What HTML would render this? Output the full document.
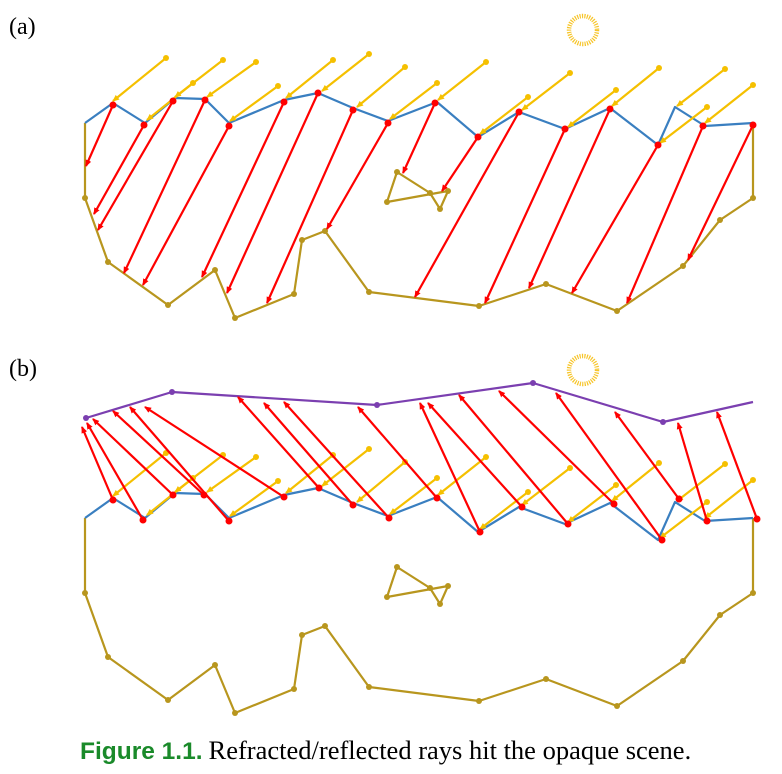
<!DOCTYPE html>
<html><head><meta charset="utf-8">
<style>
html,body{margin:0;padding:0;background:#fff;}
body{width:782px;height:774px;overflow:hidden;position:relative;}
svg{position:absolute;left:0;top:0;}
.lab{position:absolute;font-family:"Liberation Serif",serif;font-size:24px;color:#000;}
#caption{position:absolute;left:80px;top:735px;white-space:nowrap;font-size:24px;}
#caption .fig{font-family:"Liberation Sans",sans-serif;font-weight:bold;color:#1a8a2a;font-size:24.5px;}
#caption .txt{font-family:"Liberation Serif",serif;color:#000;font-size:26.5px;}
</style></head>
<body>
<div class="lab" style="left:9px;top:14px;">(a)</div>
<div class="lab" style="left:9px;top:356px;">(b)</div>
<svg id="fig" width="782" height="774">
<defs>
<marker id="ah" markerWidth="8" markerHeight="8" refX="6" refY="4" orient="auto" markerUnits="userSpaceOnUse">
<path d="M0,1 L7,4 L0,7 Z" fill="#ff0000"/></marker>
<marker id="ay" markerWidth="8" markerHeight="8" refX="6" refY="4" orient="auto" markerUnits="userSpaceOnUse">
<path d="M0,1 L7,4 L0,7 Z" fill="#f5c000"/></marker>
</defs>
<g id="pa"></g>
<g id="pb" transform="translate(0,395)"></g>
<g id="pbtop"></g>
</svg>
<div id="caption"><span class="fig">Figure 1.1.</span> <span class="txt">Refracted/reflected rays hit the opaque scene.</span></div>
<script>
const surface=[[85,123],[113,103],[145,123],[175,98],[205,99],[229,123],[284,100],[318,93],[353,108],[388,121],[437,102],[478,137],[519,112],[565,129],[610,108],[658,145],[675,107],[705,126],[753,123]];
const scene=[[85,123],[85,198],[108,262],[168,305],[215,270],[235,318],[294,294],[302,240],[325,231],[369,292],[479,306],[546,284],[617,311],[683,266],[720,220],[753,198],[753,123]];
const inner=[[397,172],[430,193],[440,209],[448,191],[387,202],[397,172]];
const yStart=[[166,58],[223,60],[193,83],[256,62],[278,86],[333,60],[369,54],[405,67],[437,83],[486,62],[528,97],[570,73],[616,90],[659,68],[725,69],[707,107],[753,85]];
const yEnd=[[113,101],[175,97],[147,120],[207,97],[230,121],[286,98],[322,91],[357,107],[390,119],[438,100],[480,134],[522,110],[568,127],[612,106],[677,106],[660,143],[705,123]];
const rA0=[[113,105],[144,125],[173,101],[205,100],[229,126],[284,102],[318,93],[353,110],[388,123],[435,103],[478,137],[519,112],[565,129],[610,109],[658,145],[703,126],[753,125]];
const rA1=[[86,166],[94,214],[98,230],[124,273],[143,285],[202,277],[227,293],[267,303],[327,229],[403,173],[442,191],[415,297],[485,303],[529,288],[572,293],[627,303],[688,260]];
const purple=[[86,418],[172,392],[377,405],[533,383],[663,422],[753,402]];
const rB0=[[113,500],[143,520],[173,495],[204,495],[229,521],[284,497],[319,488],[353,505],[389,518],[437,498],[480,532],[522,507],[568,524],[614,504],[662,540],[679,499],[707,521],[757,519]];
const rB1=[[82,427],[87,423],[93,419],[113,411],[130,407],[145,407],[238,397],[264,403],[284,402],[358,407],[420,403],[428,403],[459,395],[499,391],[556,393],[615,412],[678,423],[717,412]];
const SUN_A=[583,30], SUN_B=[583,370];

const NS="http://www.w3.org/2000/svg";
function mk(tag,attrs,parent){const e=document.createElementNS(NS,tag);for(const k in attrs)e.setAttribute(k,attrs[k]);parent.appendChild(e);return e;}
function poly(pts,color,w,parent,name){
  const e=mk('polyline',{points:pts.map(p=>p.join(',')).join(' '),fill:'none',stroke:color,'stroke-width':w,'stroke-linejoin':'round'},parent);
  
  
  return e;}
function dot(p,r,color,parent,name){
  const e=mk('circle',{cx:p[0],cy:p[1],r:r,fill:color},parent);
  
  }
function seg(a,b,color,w,marker,parent,name){
  const e=mk('line',{x1:a[0],y1:a[1],x2:b[0],y2:b[1],stroke:color,'stroke-width':w,'marker-end':marker},parent);
  
  }
function sun(c,parent,name){
  const e=mk('circle',{cx:c[0],cy:c[1],r:14,fill:'none',stroke:'#f7c52a','stroke-width':4.5,'stroke-dasharray':'1.2 1.2'},parent);
  
  }
const OL='#b8961e',BL='#3a7fc0',YE='#f5c000',RD='#ff0000',PU='#7b3fb0';

function drawBase(g){
  poly(scene,OL,2.2,g,'opaque-scene');
  poly(inner,OL,2.2,g,'inner-object');
  scene.slice(1,-1).forEach(p=>dot(p,3,OL,g,'scene-vertex'));
  inner.slice(0,-1).forEach(p=>dot(p,3,OL,g,'inner-vertex'));
  poly(surface,BL,2.2,g,'water-surface');
  yStart.forEach((s,i)=>{seg(s,yEnd[i],YE,2.2,'url(#ay)',g,'incident-ray');dot(s,3,YE,g,'ray-origin');});
}
const ga=document.getElementById('pa'), gb=document.getElementById('pb'), gt=document.getElementById('pbtop');
drawBase(ga);
rA0.forEach((s,i)=>{seg(s,rA1[i],RD,2.2,'url(#ah)',ga,'refracted-ray');dot(s,3.5,RD,ga,'hit-point');});
sun(SUN_A,ga,'sun-a');
drawBase(gb);
poly(purple,PU,2.2,gt,'reflector-surface');
purple.slice(0,-1).forEach(p=>dot(p,3,PU,gt,'reflector-vertex'));
rB0.forEach((s,i)=>{seg(s,rB1[i],RD,2.2,'url(#ah)',gt,'reflected-ray');dot(s,3.5,RD,gt,'hit-point');});
sun(SUN_B,gt,'sun-b');
</script>
</body></html>
